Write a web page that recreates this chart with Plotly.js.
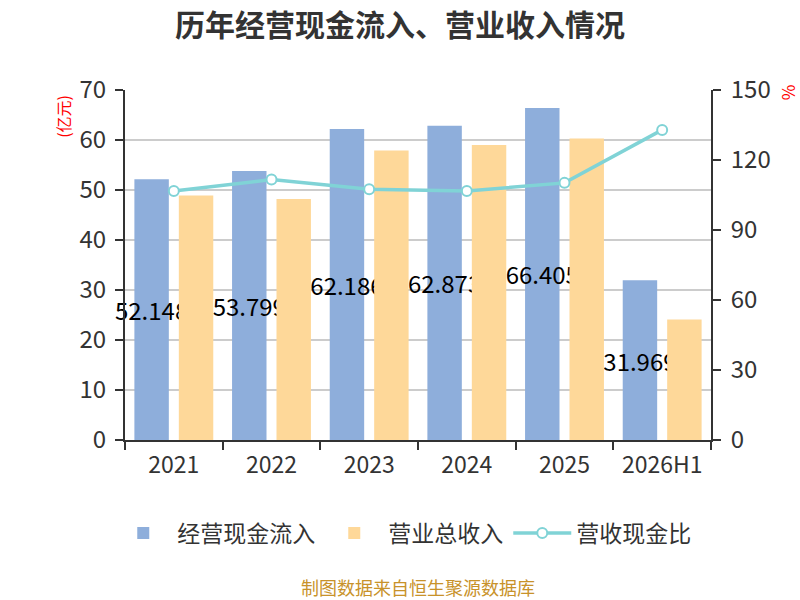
<!DOCTYPE html>
<html>
<head>
<meta charset="utf-8">
<script src="https://cdn.plot.ly/plotly-3.0.1.min.js"></script>
<style>
  html, body { margin: 0; padding: 0; background: #fff; }
  #chart { width: 800px; height: 600px; }
</style>
</head>
<body>
<div id="chart"></div>
<script>
// 历年经营现金流入、营业收入情况
const years = ['2021', '2022', '2023', '2024', '2025', '2026H1'];
const cashIn = [52.148, 53.799, 62.186, 62.873, 66.405, 31.969];   // 经营现金流入 (亿元)
const revenue = [48.9, 48.2, 57.9, 59.0, 60.3, 24.1];            // 营业总收入 (亿元)
const ratio = [106.7, 111.6, 107.5, 106.7, 110.2, 132.9];         // 营收现金比 (%)
const leftTicks = [0, 10, 20, 30, 40, 50, 60, 70];
const rightTicks = [0, 30, 60, 90, 120, 150];

const FONT = '"Noto Sans CJK SC", "Noto Sans", sans-serif';

const traces = [
  {
    x: years,
    y: cashIn,
    type: 'bar',
    name: '经营现金流入',
    marker: { color: '#8eaedb' },
    text: cashIn.map(v => v.toFixed(3)),
    textposition: 'inside',
    insidetextanchor: 'middle',
    constraintext: 'none',
    textangle: 0,
    cliponaxis: false,
    textfont: { family: FONT, size: 24, color: '#000' },
    hoverinfo: 'y',
  },
  {
    x: years,
    y: revenue,
    type: 'bar',
    name: '营业总收入',
    marker: { color: '#fed899' },
    hoverinfo: 'y',
  },
  {
    x: years,
    y: ratio,
    type: 'scatter',
    mode: 'lines+markers',
    name: '营收现金比',
    yaxis: 'y2',
    line: { color: '#80d3d6', width: 3.5 },
    marker: { size: 10, color: '#fff', line: { color: '#80d3d6', width: 2 } },
    hoverinfo: 'y',
  },
];

const layout = {
  width: 800,
  height: 600,
  paper_bgcolor: '#fff',
  plot_bgcolor: '#fff',
  font: { family: FONT, color: '#333', size: 22 },
  margin: { l: 125, r: 89, t: 90, b: 160 },
  title: {
    text: '<b>历年经营现金流入、营业收入情况</b>',
    font: { size: 30, color: '#333', family: FONT },
    x: 0.5, xanchor: 'center',
    y: 0.958, yanchor: 'middle',
  },
  barmode: 'group',
  bargap: 0.09,
  bargroupgap: 0.225,
  showlegend: true,
  legend: {
    orientation: 'h',
    x: 0.474, xanchor: 'center',
    y: -0.266, yanchor: 'middle',
    font: { size: 23, color: '#333' },
    itemwidth: 58,
    traceorder: 'normal',
  },
  xaxis: {
    type: 'category',
    tickson: 'boundaries',
    ticks: 'outside',
    ticklen: 8,
    tickwidth: 2,
    tickcolor: '#333',
    showline: true,
    linecolor: '#333',
    linewidth: 2,
    showgrid: false,
    tickfont: { size: 23, color: '#333' },
    ticklabelstandoff: 3,
    fixedrange: true,
  },
  yaxis: {
    range: [0, 70],
    tickvals: leftTicks,
    ticks: 'outside',
    ticklen: 8,
    tickwidth: 2,
    tickcolor: '#333',
    showline: true,
    linecolor: '#333',
    linewidth: 2,
    gridcolor: '#cccccc',
    gridwidth: 1.5,
    zeroline: false,
    tickfont: { size: 24, color: '#333' },
    ticklabelstandoff: 4,
    fixedrange: true,
  },
  yaxis2: {
    overlaying: 'y',
    side: 'right',
    range: [0, 150],
    tickvals: rightTicks,
    ticks: 'outside',
    ticklen: 8,
    tickwidth: 2,
    tickcolor: '#333',
    showline: true,
    linecolor: '#333',
    linewidth: 2,
    showgrid: false,
    zeroline: false,
    tickfont: { size: 24, color: '#333' },
    ticklabelstandoff: 5,
    fixedrange: true,
  },
  annotations: [
    {
      text: '(亿元)', xref: 'paper', yref: 'paper',
      x: -0.106, y: 0.926, xanchor: 'center', yanchor: 'middle',
      textangle: -90, showarrow: false,
      font: { size: 16, color: '#ff0000' },
    },
    {
      text: '%', xref: 'paper', yref: 'paper',
      x: 1.13, y: 0.994, xanchor: 'center', yanchor: 'middle',
      textangle: -90, showarrow: false,
      font: { size: 17, color: '#ff0000' },
    },
    {
      text: '制图数据来自恒生聚源数据库', xref: 'paper', yref: 'paper',
      x: 0.5, y: -0.421, xanchor: 'center', yanchor: 'middle', showarrow: false,
      font: { size: 18, color: '#c8922a' },
    },
  ],
};

Plotly.newPlot('chart', traces, layout, { displayModeBar: false, staticPlot: true });
</script>
</body>
</html>
